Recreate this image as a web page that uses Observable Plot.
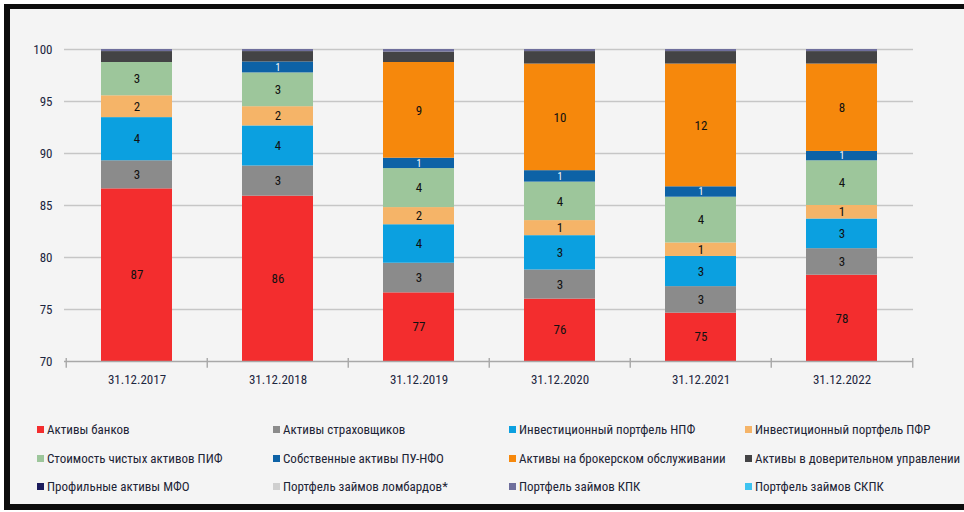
<!DOCTYPE html>
<html><head><meta charset="utf-8">
<script src="https://cdn.jsdelivr.net/npm/d3@7"></script>
<script src="https://cdn.jsdelivr.net/npm/@observablehq/plot@0.6"></script>
<style>
body{margin:0;background:#fff;}
#wrap{position:relative;width:964px;height:512px;overflow:hidden;font-family:"Liberation Sans Narrow","Roboto Condensed","DejaVu Sans Condensed","Liberation Sans",sans-serif;}
#frame{position:absolute;left:4px;top:4px;width:990px;height:495px;border-top:5px solid #0d0d0d;border-left:6px solid #0d0d0d;border-bottom:6px solid #0d0d0d;background:#f4f4f4;}
#chart{position:absolute;left:0;top:0;}
.li{position:absolute;font-size:13px;color:#1d2436;white-space:nowrap;line-height:16px;}
.sw{display:inline-block;width:7px;height:7px;margin-right:3px;vertical-align:1px;}
</style></head>
<body>
<div id="wrap"><div id="frame"></div><div id="chart"></div><div id="legend"></div></div>
<script>
const years = ["31.12.2017","31.12.2018","31.12.2019","31.12.2020","31.12.2021","31.12.2022"];
const seriesNames = [
  "Активы банков","Активы страховщиков","Инвестиционный портфель НПФ","Инвестиционный портфель ПФР",
  "Стоимость чистых активов ПИФ","Собственные активы ПУ-НФО","Активы на брокерском обслуживании","Активы в доверительном управлении",
  "Профильные активы МФО","Портфель займов ломбардов*","Портфель займов КПК","Портфель займов СКПК"
];
const seriesColors = ["#f32d2e","#8b8b8b","#0ba0e0","#f5b468","#9dc69b","#0d62a6","#f6880c","#434345","#1b1b5c","#cfcfcf","#6e6e9c","#3dc3f0"];
// values, % (stack order bottom -> top)
const banks    = [86.6, 85.9, 76.6, 76.0, 74.65, 78.3];
const insurers = [2.7, 2.9, 2.85, 2.8, 2.55, 2.55];
const npf      = [4.15, 3.85, 3.7, 3.3, 2.9, 2.85];
const pfr      = [2.1, 1.85, 1.65, 1.45, 1.3, 1.3];
const pif      = [3.2, 3.25, 3.75, 3.7, 4.4, 4.3];
const puNfo    = [0, 1.05, 1.0, 1.1, 1.0, 0.9];
const broker   = [0, 0, 9.2, 10.25, 11.8, 8.4];
const trust    = [1.05, 1.0, 1.0, 1.2, 1.2, 1.2];
const mfo      = [0, 0, 0, 0, 0, 0];
const lombard  = [0, 0, 0, 0, 0, 0];
const kpk      = [0.2, 0.2, 0.25, 0.2, 0.2, 0.2];
const skpk     = [0, 0, 0, 0, 0, 0];
const yTicks = [70, 75, 80, 85, 90, 95, 100];
const labelled = [true,true,true,true,true,true,true,false,false,false,false,false];

const seriesValues = [banks,insurers,npf,pfr,pif,puNfo,broker,trust,mfo,lombard,kpk,skpk];
const yMin = yTicks[0];
const rows = [];
years.forEach((yr, i) => {
  let acc = 0;
  seriesValues.forEach((vals, k) => {
    const v = vals[i];
    const y1 = acc, y2 = acc + v;
    acc = y2;
    if (v > 0) rows.push({year: yr, series: seriesNames[k], k, value: v,
      y1: Math.max(y1, yMin), y2,
      label: labelled[k] && v >= 0.5 ? String(Math.round(v)) : null});
  });
});

const W = 964, H = 400, mL = 64, mR = 51, mT = 49, mB = 39;
const step = (W - mL - mR) / years.length;
const font = "'Liberation Sans Narrow','Roboto Condensed','DejaVu Sans Condensed','Liberation Sans',sans-serif";

const chart = Plot.plot({
  width: W, height: H, marginLeft: mL, marginRight: mR, marginTop: mT, marginBottom: mB,
  style: {background: "transparent", fontFamily: font, fontSize: "13px", color: "#1d2640"},
  x: {domain: years, paddingInner: 0.5, paddingOuter: 0.25, tickSize: 0, tickPadding: 13, label: null},
  y: {domain: [70, 100], ticks: yTicks, tickSize: 0, tickPadding: 12, label: null},
  color: {domain: seriesNames, range: seriesColors},
  marks: [
    Plot.ruleY(yTicks.filter(t => t > yMin), {stroke: "#c6c6c6", strokeWidth: 1.6}),
    Plot.rectY(rows, {x: "year", y1: "y1", y2: "y2", fill: "series"}),
    Plot.ruleY([yMin], {stroke: "#a8a8a8", strokeWidth: 1.6}),
    Plot.ruleX(years, {x: d => d, y1: 69.35, y2: 70.3, dx: -step / 2, stroke: "#a8a8a8", strokeWidth: 1.4}),
    Plot.ruleX(years.slice(-1), {x: d => d, y1: 69.35, y2: 70.3, dx: step / 2, stroke: "#a8a8a8", strokeWidth: 1.4}),
    Plot.text(rows.filter(d => d.label && d.k !== 5), {x: "year", y: d => (d.y1 + d.y2) / 2, text: "label", fill: "#111", fontSize: 13}),
    Plot.text(rows.filter(d => d.label && d.k === 5), {x: "year", y: d => (d.y1 + d.y2) / 2, text: "label", fill: "#fff", fontSize: 10})
  ]
});
document.getElementById("chart").appendChild(chart);

const legend = document.getElementById("legend");
seriesNames.forEach((name, k) => {
  const col = k % 4, row = Math.floor(k / 4);
  const el = document.createElement("div");
  el.className = "li";
  el.style.left = (37 + col * 236) + "px";
  el.style.top = (422 + row * 28.5) + "px";
  el.innerHTML = `<span class="sw" style="background:${seriesColors[k]}"></span>${name}`;
  legend.appendChild(el);
});
</script>
</body></html>
